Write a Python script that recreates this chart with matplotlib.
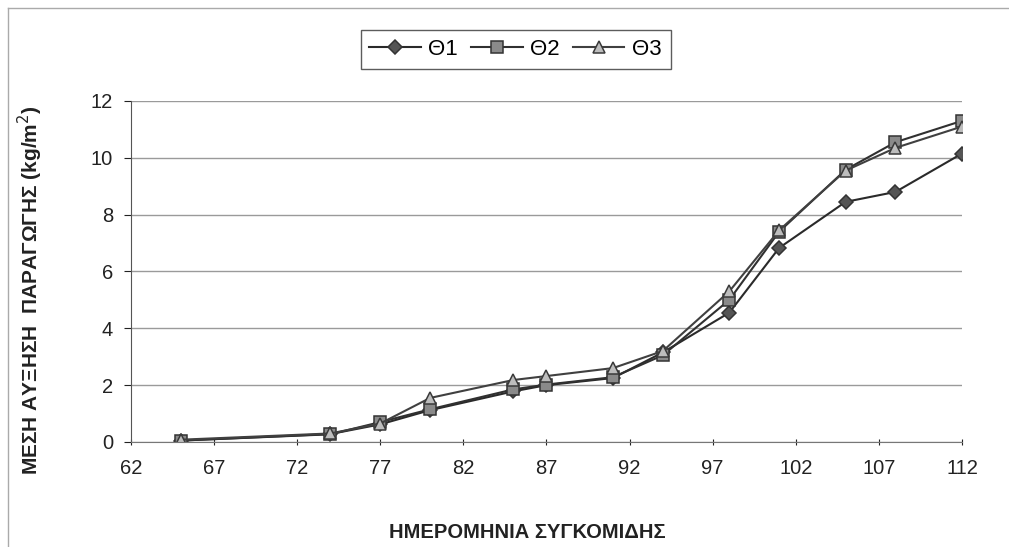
import matplotlib
matplotlib.use("Agg")
import matplotlib.pyplot as plt
from matplotlib import rcParams
from matplotlib.lines import Line2D

rcParams['font.family'] = ['Liberation Sans', 'DejaVu Sans']
rcParams['font.size'] = 12

# harvest day and mean yield (kg/m2) per treatment
days = [65, 74, 77, 80, 85, 87, 91, 94, 98, 101, 105, 108, 112]
theta1 = [0.05, 0.28, 0.62, 1.12, 1.78, 2.0, 2.25, 3.15, 4.55, 6.83, 8.45, 8.8, 10.15]
theta2 = [0.05, 0.27, 0.7, 1.15, 1.85, 2.02, 2.28, 3.05, 5.0, 7.4, 9.58, 10.55, 11.3]
theta3 = [0.08, 0.3, 0.65, 1.55, 2.18, 2.32, 2.6, 3.2, 5.3, 7.45, 9.55, 10.35, 11.1]

series_labels = ["Θ1", "Θ2", "Θ3"]
xticks = [62, 67, 72, 77, 82, 87, 92, 97, 102, 107, 112]
yticks = [0, 2, 4, 6, 8, 10, 12]

fig = plt.figure(figsize=(10.09, 5.47), dpi=100)
ax = fig.add_axes([0.1298, 0.192, 0.8236, 0.6234])

styles = [
    dict(marker='D', markersize=7, markerfacecolor='#555555', markeredgecolor='#333333'),
    dict(marker='s', markersize=8, markerfacecolor='#8a8a8a', markeredgecolor='#333333'),
    dict(marker='^', markersize=9, markerfacecolor='#bdbdbd', markeredgecolor='#3a3a3a'),
]
line_colors = ['#2a2a2a', '#303030', '#404040']

for vals, lab, st, lc in zip([theta1, theta2, theta3], series_labels, styles, line_colors):
    ax.plot(days, vals, color=lc, linewidth=1.5, label=lab, markeredgewidth=1.1, **st)

ax.set_xlim(62, 112)
ax.set_ylim(0, 12)
ax.set_xticks(xticks)
ax.set_yticks(yticks)
ax.tick_params(axis='both', labelsize=14.5, colors='#222222', length=5, width=0.8)
ax.tick_params(axis='x', pad=10, direction='inout')
ax.tick_params(axis='y', pad=8)

ax.yaxis.grid(True, color='#9a9a9a', linewidth=1.0)
ax.set_axisbelow(True)
for side in ['top', 'right']:
    ax.spines[side].set_visible(False)
ax.spines['left'].set_color('#555555')
ax.spines['bottom'].set_color('#777777')

ax.set_ylabel("ΜΕΣΗ ΑΥΞΗΣΗ  ΠΑΡΑΓΩΓΗΣ (kg/m$^2$)", fontsize=15, fontweight='bold',
              color='#222222')
ax.yaxis.set_label_coords(-0.103, 0.446)
ax.set_xlabel("ΗΜΕΡΟΜΗΝΙΑ ΣΥΓΚΟΜΙΔΗΣ", fontsize=14.5, fontweight='bold',
              color='#222222')
ax.xaxis.set_label_coords(0.4765, -0.2375)

leg = fig.legend(loc='center', bbox_to_anchor=(0.511, 0.910), ncol=3, fontsize=16,
                 frameon=True, fancybox=False, edgecolor='#333333', handlelength=2.3,
                 columnspacing=0.6, handletextpad=0.35, borderpad=0.4)
leg.get_frame().set_linewidth(1.0)

# outer chart-area frame (top and left edges visible in the original)
fig.add_artist(Line2D([0.008, 1.0], [0.985, 0.985], color='#aaaaaa', linewidth=1.0,
                      transform=fig.transFigure))
fig.add_artist(Line2D([0.008, 0.008], [0.0, 0.985], color='#aaaaaa', linewidth=1.0,
                      transform=fig.transFigure))

plt.savefig("out.png", dpi=100)
